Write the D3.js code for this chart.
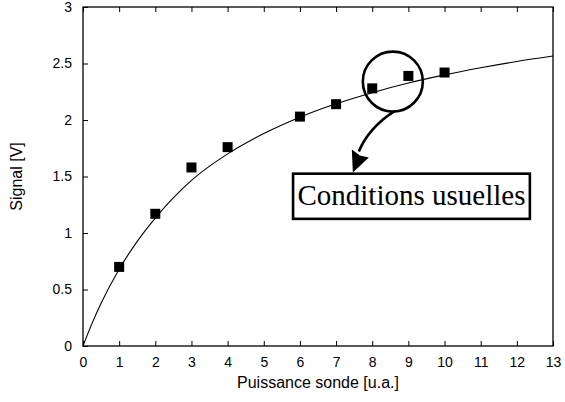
<!DOCTYPE html>
<html><head><meta charset="utf-8">
<script src="https://cdn.jsdelivr.net/npm/d3@7"></script>
<style>
html,body{margin:0;padding:0;background:#fff;}
svg{display:block;}
</style></head>
<body>
<svg id="c" width="565" height="402"></svg>
<script>
// Data
const pointX = [1, 2, 3, 4, 6, 7, 8, 9, 10];
const pointY = [0.70, 1.17, 1.58, 1.76, 2.03, 2.14, 2.28, 2.39, 2.42];
const fitX = [0, 0.25, 0.5, 1, 1.5, 2, 3, 4, 5, 6, 7, 8, 9, 10, 11, 12, 13];
const fitY = [0, 0.20, 0.378, 0.679, 0.926, 1.132, 1.465, 1.700, 1.880, 2.025, 2.143, 2.242, 2.327, 2.399, 2.462, 2.518, 2.566];
const xTicks = [0,1,2,3,4,5,6,7,8,9,10,11,12,13];
const yTicks = [0,0.5,1,1.5,2,2.5,3];
const yTickLabels = ["0","0.5","1","1.5","2","2.5","3"];
const xLabel = "Puissance sonde [u.a.]";
const yLabel = "Signal [V]";
const annotationText = "Conditions usuelles";

const W = 565, H = 402;
const m = {left: 83, right: 12, top: 7, bottom: 56};
const svg = d3.select("#c");
const x = d3.scaleLinear().domain([0, 13]).range([m.left, W - m.right]);
const y = d3.scaleLinear().domain([0, 3]).range([H - m.bottom, m.top]);
const sans = "'Liberation Sans', Arial, Helvetica, sans-serif";

// Fit curve
const line = d3.line().x(d => x(d[0])).y(d => y(d[1])).curve(d3.curveMonotoneX);
svg.append("path")
  .datum(fitX.map((v, i) => [v, fitY[i]]))
  .attr("d", line).attr("fill", "none").attr("stroke", "#000").attr("stroke-width", 1.1);

// Frame
svg.append("rect").attr("x", x(0)).attr("y", y(3))
  .attr("width", x(13) - x(0)).attr("height", y(0) - y(3))
  .attr("fill", "none").attr("stroke", "#000").attr("stroke-width", 1.3);

// Axes
const xAxis = d3.axisBottom(x).tickValues(xTicks).tickSizeInner(-5).tickSizeOuter(0).tickPadding(11);
const gx = svg.append("g").attr("transform", `translate(0,${y(0)})`).call(xAxis);
const xTop = d3.axisTop(x).tickValues(xTicks).tickSizeInner(-5).tickSizeOuter(0).tickFormat("");
const gxt = svg.append("g").attr("transform", `translate(0,${y(3)})`).call(xTop);
const yAxis = d3.axisLeft(y).tickValues(yTicks).tickFormat((d, i) => yTickLabels[i]).tickSizeInner(-5).tickSizeOuter(0).tickPadding(11);
const gy = svg.append("g").attr("transform", `translate(${x(0)},0)`).call(yAxis);
[gx, gxt, gy].forEach(g => {
  g.select(".domain").remove();
  g.selectAll("line").attr("stroke", "#000").attr("stroke-width", 1);
  g.selectAll("text").attr("font-family", sans).attr("font-size", 14).attr("fill", "#000");
});

// Points
const sz = 10;
svg.append("g").selectAll("rect").data(pointX.map((v, i) => [v, pointY[i]])).join("rect")
  .attr("x", d => x(d[0]) - sz / 2).attr("y", d => y(d[1]) - sz / 2)
  .attr("width", sz).attr("height", sz).attr("fill", "#000");

// Axis labels
svg.append("text").attr("x", (x(0) + x(13)) / 2).attr("y", 388)
  .attr("text-anchor", "middle").attr("font-family", sans).attr("font-size", 16).text(xLabel);
svg.append("text").attr("transform", `translate(22,${(y(0) + y(3)) / 2}) rotate(-90)`)
  .attr("text-anchor", "middle").attr("font-family", sans).attr("font-size", 16).text(yLabel);

// Annotation
const cx = x(8.57), cy = y(2.34);
svg.append("circle").attr("cx", cx).attr("cy", cy).attr("r", 30)
  .attr("fill", "none").attr("stroke", "#000").attr("stroke-width", 2.6);
svg.append("path")
  .attr("d", `M${cx + 1},${cy + 30} C${cx - 15},${cy + 40} ${cx - 28},${cy + 55} ${cx - 34},${cy + 70}`)
  .attr("fill", "none").attr("stroke", "#000").attr("stroke-width", 2.6);
svg.append("path")
  .attr("d", `M${cx - 40},${cy + 91} L${cx - 41},${cy + 68} L${cx - 33},${cy + 74} L${cx - 24},${cy + 76} Z`)
  .attr("fill", "#000");
const bx = x(5.81), by = y(1.525);
const bw = x(12.36) - x(5.81), bh = y(1.125) - y(1.525);
svg.append("rect").attr("x", bx).attr("y", by).attr("width", bw).attr("height", bh)
  .attr("fill", "#fff").attr("stroke", "#000").attr("stroke-width", 2.6);
svg.append("text").attr("x", bx + bw / 2).attr("y", by + bh / 2 + 9)
  .attr("text-anchor", "middle").attr("font-family", "'Liberation Serif', 'Times New Roman', serif")
  .attr("font-size", 29).text(annotationText);
</script>
</body></html>
